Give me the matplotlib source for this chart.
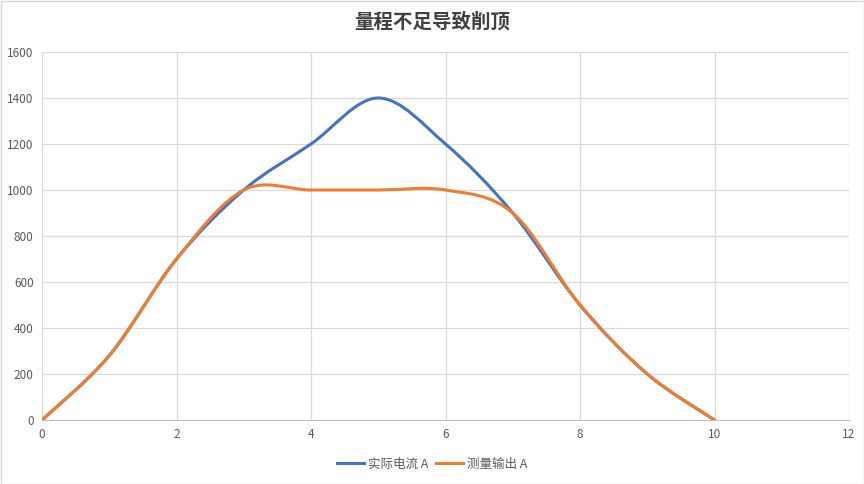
import matplotlib

matplotlib.use("Agg")
import matplotlib.pyplot as plt
from matplotlib.path import Path
from matplotlib.patches import PathPatch
from matplotlib.lines import Line2D

plt.rcParams["font.family"] = ["Noto Sans CJK SC", "DejaVu Sans"]

# data
current_x = [0, 1, 2, 3, 4, 5, 6, 7, 8, 9, 10]
actual_a = [0, 280, 700, 1000, 1200, 1400, 1200, 900, 500, 200, 0]
measured_a = [0, 280, 700, 1000, 1000, 1000, 1000, 900, 500, 200, 0]
labels = ["实际电流 A", "测量输出 A"]
colors = ["#4472C4", "#ED7D31"]


def smooth_path(xs, ys):
    # Excel-like smoothed line: cubic Bezier segments through every point
    pts = list(zip(xs, ys))
    verts = [pts[0]]
    codes = [Path.MOVETO]
    n = len(pts)
    for i in range(n - 1):
        p0 = pts[max(i - 1, 0)]
        p1 = pts[i]
        p2 = pts[i + 1]
        p3 = pts[min(i + 2, n - 1)]
        c1 = (p1[0] + (p2[0] - p0[0]) / 6, p1[1] + (p2[1] - p0[1]) / 6)
        c2 = (p2[0] - (p3[0] - p1[0]) / 6, p2[1] - (p3[1] - p1[1]) / 6)
        verts += [c1, c2, p2]
        codes += [Path.CURVE4] * 3
    return Path(verts, codes)


fig = plt.figure(figsize=(8.64, 4.84), dpi=100)
ax = fig.add_axes([42 / 864, 1 - 420 / 484, (849 - 42) / 864, (420 - 52) / 484])

for ys, c in zip([actual_a, measured_a], colors):
    ax.add_patch(PathPatch(smooth_path(current_x, ys), facecolor="none",
                           edgecolor=c, lw=2.2, capstyle="round", joinstyle="round", zorder=3))

ax.set_xlim(0, 12)
ax.set_ylim(0, 1600)
ax.set_xticks(range(0, 13, 2))
ax.set_yticks(range(0, 1601, 200))
ax.grid(True, color="#D9D9D9", lw=0.9)
ax.set_axisbelow(True)
for side in ["top", "right", "left"]:
    ax.spines[side].set_visible(False)
ax.spines["bottom"].set_color("#BFBFBF")
ax.tick_params(length=0, labelsize=8.5, colors="#595959", pad=6)

fig.suptitle("量程不足导致削顶", x=0.5, y=0.975, fontsize=14, fontweight="bold",
             color="#404040")

handles = [Line2D([], [], color=c, lw=2.2) for c in colors]
fig.legend(handles, labels, loc="center", bbox_to_anchor=(0.5, 1 - 464 / 484),
           ncol=2, frameon=False, fontsize=9, handlelength=2.2, columnspacing=0.6,
           handletextpad=0.3, labelcolor="#595959")

fig.patches.append(plt.Rectangle((0.5 / 864, 0.5 / 484), 1 - 1 / 864, 1 - 1 / 484,
                                 transform=fig.transFigure, fill=False,
                                 edgecolor="#D9D9D9", lw=1))

fig.savefig("out.png", dpi=100)
